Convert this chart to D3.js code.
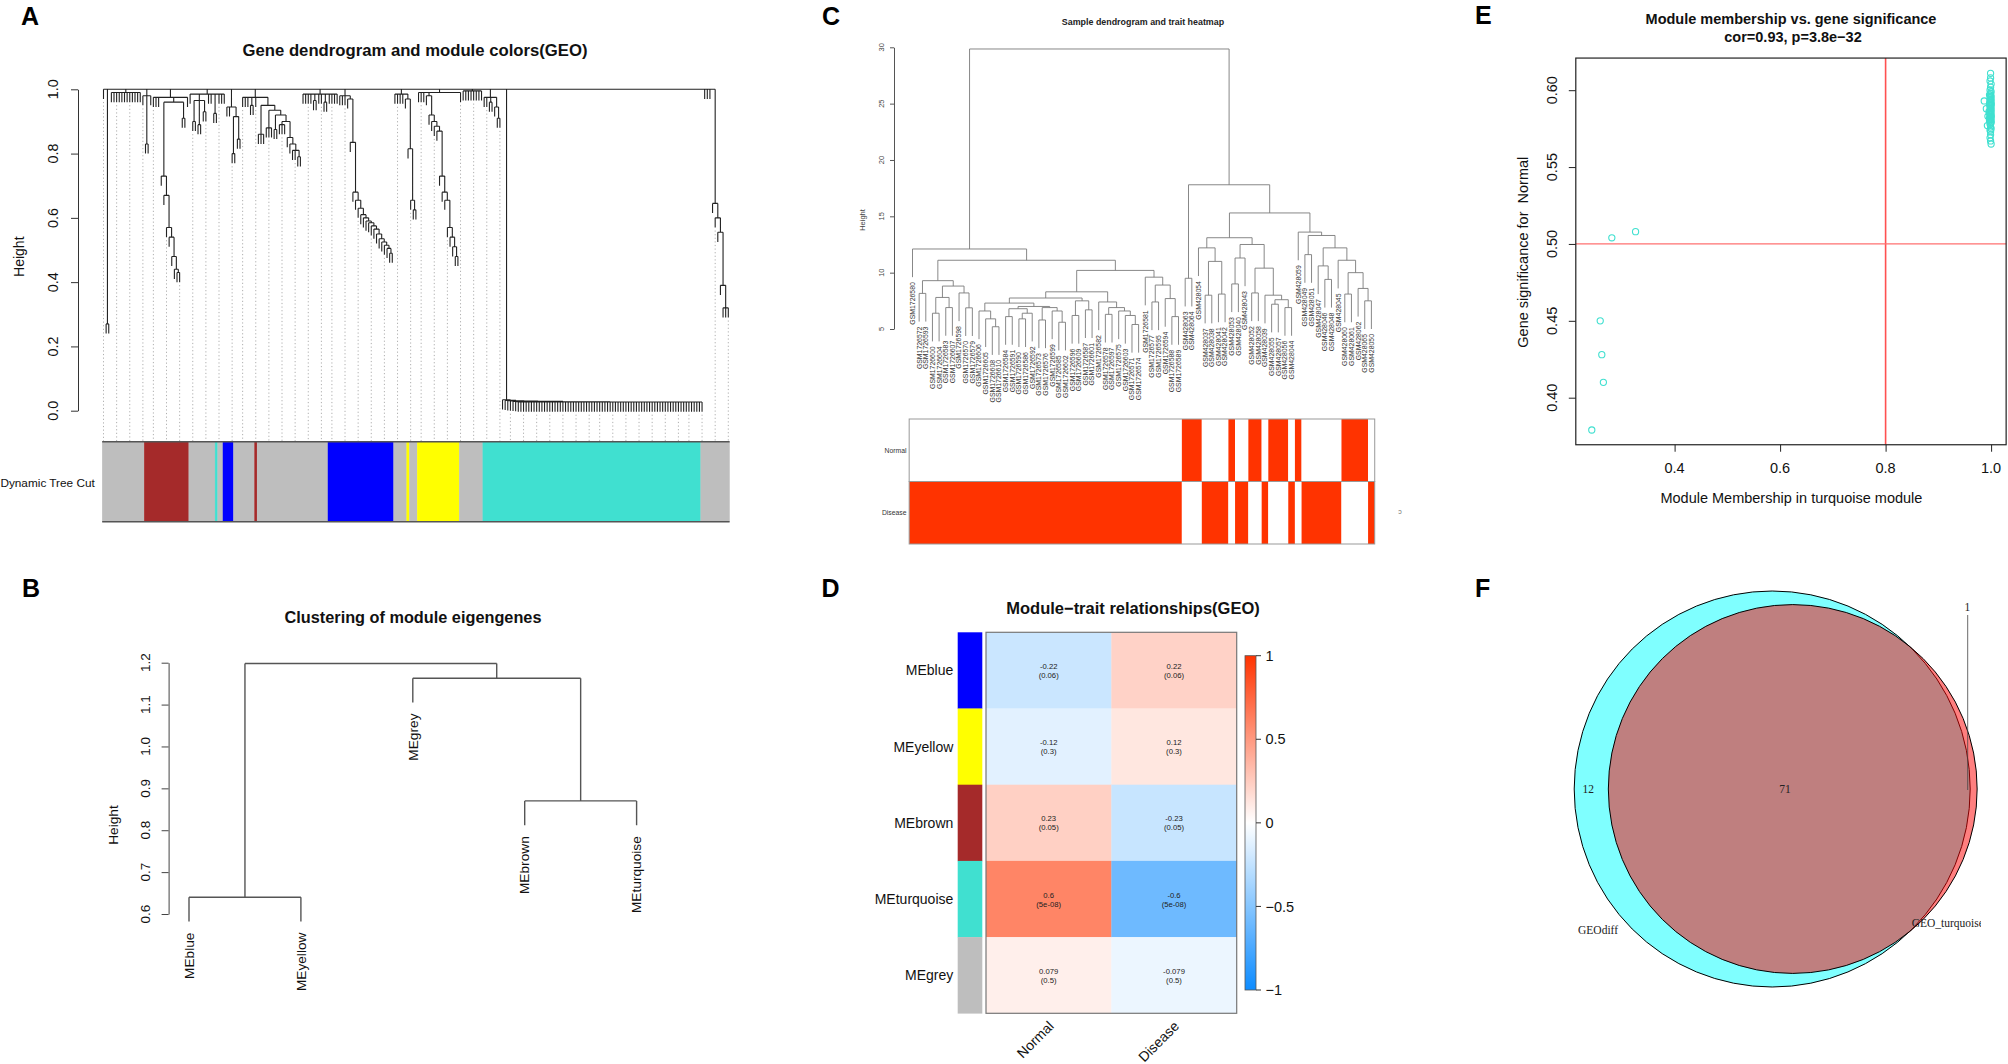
<!DOCTYPE html>
<html>
<head>
<meta charset="utf-8">
<script src="https://d3js.org/d3.v7.min.js"></script>
<style>
  body { margin: 0; background: #fff; }
  svg { display: block; font-family: "Liberation Sans", Arial, sans-serif; }
</style>
</head>
<body>
<svg width="2008" height="1064"></svg>
<script>
// ---------------- data ----------------
// A: gene dendrogram, written as nested merges "(children)height"; "*n" = n unlabeled leaves
const geneTree = [
  "*",
  "(*2)0.27",
  "(*12)0.99",
  "(*,(*2)0.83,*)0.98",
  "(*3,((*,(*,(*,(*,(*,(*,(*2)0.43)0.44)0.48)0.54)0.57)0.67)0.73,(*2)0.91)0.96,*)0.975",
  "(*,((*2)0.9,(*2)0.89,(*2)0.93)0.965,*2,(*2)0.925,*3)0.985",
  "(*2,((*2)0.8,(*2)0.845)0.915)0.945",
  "(*3,(*2)0.95,*,((*3)0.86,((*3)0.88,((*2)0.875,((*3)0.89,(*,(*,(*2,(*2)0.79)0.81)0.83)0.85)0.9)0.92)0.935)0.95)0.975",
  "(*4,(*2)0.965,*2,(*2)0.96,*4)0.985",
  "(*3,(*,(*,(*,(*,(*,(*,(*,(*,(*,(*,(*,(*,(*,(*,(*,(*,(*2)0.49)0.505)0.515)0.525)0.535)0.55)0.565)0.575)0.585)0.59)0.6)0.61)0.63)0.655)0.68)0.835)0.97)0.98",
  "(*4,(*,(*,(*,(*2)0.625)0.655)0.815)0.97)0.985",
  "(*3,(*,(*,(*,(*,(*,(*,(*,(*,(*,(*,(*,(*2)0.48)0.51)0.54)0.57)0.655)0.68)0.73)0.87)0.885)0.9)0.92)0.98,*)0.99",
  "(*8)0.995",
  "(*2,(*2)0.96,(*,(*2)0.91)0.945)0.975",
  "(*,(*,(*,(*,(*,(*,(*71)0.027)0.028)0.029)0.03)0.031)0.032)0.034",
  "*3",
  "(*,(*,(*,(*,(*3)0.32)0.39)0.555)0.6)0.645"
];
const geneTreeTop = 1.0;
// module colour runs under the dendrogram (colour, number of leaves)
const runColors = ["grey","brown","grey","turquoise","grey","blue","grey","brown","grey","blue","grey","yellow","grey","yellow","grey","turquoise","grey"];
const runCounts = [16, 17, 10, 1, 2, 4, 8, 1, 27, 25, 5, 1, 3, 16, 9, 83, 11];
const moduleColor = { grey: "#BEBEBE", brown: "#A52A2A", turquoise: "#40E0D0", blue: "#0000FF", yellow: "#FFFF00" };
const geneTicks = [0, 0.2, 0.4, 0.6, 0.8, 1.0];

// B: eigengene clustering
const eigenTree = "((MEblue,MEyellow)0.64,(MEgrey,(MEbrown,MEturquoise)0.87)1.163)1.198";
const eigenTicks = [0.6, 0.7, 0.8, 0.9, 1.0, 1.1, 1.2];

// C: sample dendrogram
const sampleLeft = "(GSM1726580,(((GSM1726572,GSM1726593)8.16,(((GSM1726600,GSM1726604)6.4,(GSM1726583,GSM1726607)6.9)7.8,(GSM1726598,(GSM1726570,GSM1726579)6.88)8.2)8.81)9.29,(((((GSM1726606,(GSM1726605,(GSM1726608,GSM1726610)5.2)5.9)6.6,(((GSM1726584,GSM1726591)6.1,((GSM1726590,GSM1726586)5.9,GSM1726592)6.4)6.8,((GSM1726573,GSM1726576)5.8,(GSM1726599,(GSM1726585,GSM1726602)5.6)6.6)6.9)7.0)7.3,((GSM1726596,GSM1726609)6.2,(GSM1726587,GSM1726601)6.7)7.5)7.75,(GSM1726582,((GSM1726578,GSM1726597)6.3,(GSM1726575,(GSM1726603,(GSM1726571,GSM1726574)5.4)6.2)6.6)6.9)7.4)8.3,(GSM1726581,((GSM1726577,GSM1726595)7.4,(GSM1726594,(GSM1726588,GSM1726589)6.1)7.7)8.9)9.6)10.2)11.1)12.1";
const sampleRight = "((GSM428063,GSM428064)9.5,(((GSM428054,((GSM428037,GSM428038)8.0,(GSM428041,GSM428042)8.1)11.0)12.2,(((GSM428053,GSM428040)9.0,GSM428043)11.3,((GSM428052,GSM428058)8.2,(GSM428039,((GSM428055,GSM428057)7.2,(GSM428056,GSM428044)6.9)7.6)8.0)10.4)12.5)13.1,(GSM428059,((GSM428049,GSM428051)11.6,((GSM428047,(GSM428046,GSM428048)9.4)10.6,(GSM428045,((GSM428060,GSM428061)8.1,(GSM428062,(GSM428065,GSM428050)7.5)8.6)10.0)11.1)12.2)13.3)13.6)15.3)17.8";
const sampleTop = 29.85;
const normalSamples = ["GSM428063","GSM428064","GSM428054","GSM428053","GSM428052","GSM428058","GSM428055","GSM428057","GSM428056","GSM428059","GSM428060","GSM428061","GSM428062","GSM428065"];
const traitRows = ["Normal", "Disease"];
const sampleTicks = [5, 10, 15, 20, 25, 30];

// D: module-trait correlations
const modules = ["MEblue", "MEyellow", "MEbrown", "MEturquoise", "MEgrey"];
const modColors = ["#0000FF", "#FFFF00", "#A52A2A", "#40E0D0", "#BEBEBE"];
const traits = ["Normal", "Disease"];
const corNormal = [-0.22, -0.12, 0.23, 0.6, 0.079];
const corDisease = [0.22, 0.12, -0.23, -0.6, -0.079];
const pValues = ["0.06", "0.3", "0.05", "5e-08", "0.5"];
const legendTicks = [1, 0.5, 0, -0.5, -1];

// E: module membership vs gene significance
const mmTurquoise = [0.243,0.259,0.262,0.265,0.281,0.326,
  0.999,0.999,0.998,1.000,0.999,0.998,1.000,0.999,0.997,0.999,0.999,1.000,0.998,0.999,0.999,1.000,0.999,0.987,0.998,0.998,1.000,0.999,0.997,1.000,0.999,1.000,0.998,0.998,0.999,0.991,1.000,0.999,0.999,0.998,1.000,0.999,0.996,0.998,0.997,0.999,1.000,0.998,0.999,0.999,0.994,1.000,1.000,0.999,0.997,0.998,0.999,1.000,0.997,0.999,1.000,0.998,0.999,0.993,0.999,1.000,0.998,0.999,0.999,0.998,0.999,1.000];
const gsNormal = [0.379,0.450,0.428,0.410,0.504,0.508,
  0.611,0.608,0.606,0.604,0.602,0.600,0.599,0.598,0.597,0.597,0.596,0.596,0.595,0.595,0.594,0.594,0.593,0.593,0.593,0.592,0.592,0.591,0.591,0.591,0.590,0.590,0.590,0.589,0.589,0.588,0.588,0.588,0.587,0.587,0.586,0.586,0.586,0.586,0.585,0.585,0.584,0.584,0.584,0.583,0.583,0.583,0.582,0.582,0.582,0.581,0.581,0.580,0.580,0.579,0.579,0.578,0.578,0.577,0.576,0.575,0.574,0.573,0.571,0.569,0.567,0.565];
const mmTicks = [0.4, 0.6, 0.8, 1.0];
const gsTicks = [0.40, 0.45, 0.50, 0.55, 0.60];

// F: venn
const vennSets = ["GEOdiff", "GEO_turquoise"];
const vennSizes = [83, 72];
const vennOverlap = 71;

// ---------------- helpers ----------------
const svg = d3.select("svg");
svg.append("rect").attr("width", 2008).attr("height", 1064).attr("fill", "#fff");

function parseTree(s) {
  let i = 0;
  const num = () => { const m = /^[0-9.]+/.exec(s.slice(i)); i += m[0].length; return +m[0]; };
  function items() {
    if (s[i] === "(") {
      i++;
      const kids = [];
      do { if (s[i] === ",") i++; kids.push(...items()); } while (s[i] === ",");
      i++;
      return [{ h: num(), children: kids }];
    }
    if (s[i] === "*") {
      i++;
      const n = /[0-9]/.test(s[i]) ? num() : 1;
      return d3.range(n).map(() => ({}));
    }
    const m = /^[^,()]+/.exec(s.slice(i)); i += m[0].length;
    return [{ name: m[0] }];
  }
  return items()[0];
}

// lays leaves out in order on x, merges at their height on y
function dendro(g, spec, x, y, hang) {
  const root = d3.hierarchy(parseTree(spec));
  const leaves = root.leaves();
  x.domain([0, leaves.length - 1]);
  leaves.forEach((d, i) => { d.px = x(i); });
  root.eachAfter(d => { if (d.children) d.px = (d.children[0].px + d.children[d.children.length - 1].px) / 2; });
  let p = "";
  root.each(d => {
    if (!d.children) return;
    const yh = y(d.data.h);
    p += `M${d.children[0].px},${yh}H${d.children[d.children.length - 1].px}`;
    d.children.forEach(c => {
      c.low = c.children ? c.data.h : d.data.h - hang;
      p += `M${c.px},${yh}V${y(c.low)}`;
    });
  });
  g.append("path").attr("d", p).attr("fill", "none");
  return leaves;
}

function htext(g, x, y, str, size, anchor, weight) {
  return g.append("text").attr("x", x).attr("y", y + 0.35 * size)
    .attr("text-anchor", anchor || "middle").attr("font-size", size)
    .attr("font-weight", weight || null).text(str);
}
function vtext(g, x, y, str, size, anchor) {
  const bx = x + 0.35 * size;
  return g.append("text").attr("x", bx).attr("y", y)
    .attr("transform", `rotate(-90,${bx},${y})`)
    .attr("text-anchor", anchor || "middle").attr("font-size", size).text(str);
}
function letter(x, y, s) {
  svg.append("text").attr("x", x).attr("y", y).attr("font-size", 25).attr("font-weight", "bold").text(s);
}

// ---------------- A ----------------
const gA = svg.append("g").attr("fill", "#111");
letter(21, 25, "A");
htext(gA, 415, 50, "Gene dendrogram and module colors(GEO)", 16.7, "middle", "bold");
const xA = d3.scaleLinear().range([103.5, 728.3]);
const yA = d3.scaleLinear().domain([0, 1]).range([410.7, 89.3]);
const leavesA = dendro(gA.append("g").attr("stroke", "#222").attr("stroke-width", 1.1),
  "(" + geneTree.join(",") + ")" + geneTreeTop, xA, yA, 0.03);

const guideG = gA.append("g").attr("stroke", "#9a9a9a").attr("stroke-width", 0.8).attr("stroke-dasharray", "1.2,2.4");
d3.range(50).forEach(k => {
  const lf = leavesA[Math.round(k * (leavesA.length - 1) / 49)];
  const y0 = yA(lf.low) + 3;
  if (y0 < 441) guideG.append("line").attr("x1", lf.px).attr("x2", lf.px).attr("y1", y0).attr("y2", 441.7);
});

let run = 0;
runColors.forEach((c, k) => {
  gA.append("rect").attr("x", xA(run - 0.5)).attr("y", 441.7)
    .attr("width", xA(run + runCounts[k] - 0.5) - xA(run - 0.5)).attr("height", 80)
    .attr("fill", moduleColor[c]).attr("stroke", moduleColor[c]).attr("stroke-width", 0.3);
  run += runCounts[k];
});
[441.7, 521.7].forEach(yy => gA.append("line").attr("x1", xA(-0.5)).attr("x2", xA(run - 0.5))
  .attr("y1", yy).attr("y2", yy).attr("stroke", "#555").attr("stroke-width", 1.4));
htext(gA, 94.8, 482.7, "Dynamic Tree Cut", 11.8, "end");

gA.append("g").attr("transform", "translate(78,0)").attr("color", "#333")
  .call(d3.axisLeft(yA).tickValues(geneTicks).tickSize(7).tickSizeOuter(0).tickFormat(""));
geneTicks.forEach(v => vtext(gA, 52.7, yA(v), v.toFixed(1), 14.4));
vtext(gA, 18.8, 256.7, "Height", 14);

// ---------------- B ----------------
const gB = svg.append("g").attr("fill", "#111");
letter(22, 597, "B");
htext(gB, 413, 617, "Clustering of module eigengenes", 16.3, "middle", "bold");
const xB = d3.scaleLinear().range([189, 636.6]);
const yB = d3.scaleLinear().domain([0.6, 1.2]).range([914, 662.7]);
const leavesB = dendro(gB.append("g").attr("stroke", "#555").attr("stroke-width", 1.4), eigenTree, xB, yB, 0.058);
leavesB.forEach(d => vtext(gB, d.px, yB(d.low) + 11, d.data.name, 13.7, "end"));
gB.append("g").attr("transform", "translate(168.6,0)").attr("color", "#444")
  .call(d3.axisLeft(yB).tickValues(eigenTicks).tickSize(7).tickSizeOuter(0).tickFormat(""));
eigenTicks.forEach(v => vtext(gB, 144.9, yB(v), v.toFixed(1), 13.5));
vtext(gB, 113, 825, "Height", 13.7);

// ---------------- C ----------------
const gC = svg.append("g").attr("fill", "#222");
letter(822, 25, "C");
htext(gC, 1143, 22, "Sample dendrogram and trait heatmap", 8.9, "middle", "bold");
const xC = d3.scaleLinear().range([912.5, 1371.4]);
const yC = d3.scaleLinear().domain([5, 30]).range([329, 47.3]);
const leavesC = dendro(gC.append("g").attr("stroke", "#7a7a7a").attr("stroke-width", 0.9),
  "(" + sampleLeft + "," + sampleRight + ")" + sampleTop, xC, yC, 2.5);
leavesC.forEach(d => vtext(gC, d.px, yC(d.low) + 5, d.data.name, 6.9, "end").attr("fill", "#333"));
gC.append("g").attr("transform", "translate(894,0)").attr("color", "#555")
  .call(d3.axisLeft(yC).tickValues(sampleTicks).tickSize(4).tickSizeOuter(0).tickFormat(""));
sampleTicks.forEach(v => vtext(gC, 881.7, yC(v), String(v), 7.5).attr("fill", "#444"));
vtext(gC, 862.7, 220, "Height", 7.5).attr("fill", "#444");

const cellW = xC(1) - xC(0);
const rowsC = d3.scaleBand().domain(traitRows).range([419, 544]);
traitRows.forEach(r => {
  // merge neighbouring samples with the same state into one block
  const blocks = [];
  leavesC.forEach((d, i) => {
    const on = (r === "Normal") === normalSamples.includes(d.data.name);
    const last = blocks[blocks.length - 1];
    if (last && last.on === on) last.n++; else blocks.push({ on, start: i, n: 1 });
  });
  blocks.forEach(b => {
    gC.append("rect").attr("x", xC(b.start - 0.5)).attr("y", rowsC(r))
      .attr("width", xC(b.start + b.n - 0.5) - xC(b.start - 0.5)).attr("height", rowsC.bandwidth())
      .attr("fill", b.on ? "#FF3300" : "#fff");
  });
  gC.append("rect").attr("x", xC(-0.5)).attr("y", rowsC(r))
    .attr("width", xC(leavesC.length - 0.5) - xC(-0.5)).attr("height", rowsC.bandwidth())
    .attr("fill", "none").attr("stroke", "#999").attr("stroke-width", 1);
  htext(gC, 906.5, rowsC(r) + rowsC.bandwidth() / 2, r, 6.8, "end").attr("fill", "#333");
});
gC.append("text").attr("x", 1400).attr("y", 510).attr("font-size", 7).attr("fill", "#777")
  .attr("transform", "rotate(180,1400,510)").attr("text-anchor", "middle").text("c");

// ---------------- D ----------------
const gD = svg.append("g").attr("fill", "#111");
letter(821.5, 597, "D");
htext(gD, 1133, 608, "Module\u2212trait relationships(GEO)", 16.5, "middle", "bold");
const colorD = d3.scaleLinear().domain([-1, 0, 1]).range(["#0D8CFF", "#FFFFFF", "#FF3300"]);
const rowD = d3.scaleBand().domain(modules).range([632.3, 1013.3]);
const colD = d3.scaleBand().domain(traits).range([986, 1236.7]);
modules.forEach((m, i) => {
  gD.append("rect").attr("x", 957.7).attr("y", rowD(m)).attr("width", 24.6).attr("height", rowD.bandwidth() + 0.3).attr("fill", modColors[i]);
  htext(gD, 953.3, rowD(m) + rowD.bandwidth() / 2, m, 14, "end");
  [corNormal[i], corDisease[i]].forEach((v, j) => {
    const cx = colD(traits[j]), cy = rowD(m) + rowD.bandwidth() / 2;
    gD.append("rect").attr("x", cx).attr("y", rowD(m)).attr("width", colD.bandwidth() + 0.3)
      .attr("height", rowD.bandwidth() + 0.3).attr("fill", colorD(v));
    htext(gD, cx + colD.bandwidth() / 2, cy - 4, String(v), 7.7).attr("fill", "#222");
    htext(gD, cx + colD.bandwidth() / 2, cy + 5, "(" + pValues[i] + ")", 7.7).attr("fill", "#222");
  });
});
gD.append("rect").attr("x", 986).attr("y", 632.3).attr("width", 250.7).attr("height", 381)
  .attr("fill", "none").attr("stroke", "#777").attr("stroke-width", 1.2);
traits.forEach(t => {
  const ex = colD(t) + colD.bandwidth() / 2 + 6, ey = 1027;
  gD.append("text").attr("x", ex).attr("y", ey).attr("text-anchor", "end").attr("font-size", 14)
    .attr("transform", `rotate(-45,${ex},${ey})`).text(t);
});
const yLeg = d3.scaleLinear().domain([-1, 1]).range([990, 655.7]);
const grad = svg.append("defs").append("linearGradient").attr("id", "gradD")
  .attr("x1", 0).attr("y1", 0).attr("x2", 0).attr("y2", 1);
d3.range(0, 1.0001, 0.05).forEach(t => grad.append("stop").attr("offset", t).attr("stop-color", colorD(1 - 2 * t)));
gD.append("rect").attr("x", 1245).attr("y", yLeg(1)).attr("width", 11).attr("height", yLeg(-1) - yLeg(1))
  .attr("fill", "url(#gradD)").attr("stroke", "#555").attr("stroke-width", 0.8);
legendTicks.forEach(v => {
  gD.append("line").attr("x1", 1256).attr("x2", 1261).attr("y1", yLeg(v)).attr("y2", yLeg(v)).attr("stroke", "#333");
  htext(gD, 1265.5, yLeg(v), String(v).replace("-", "\u2212"), 14.5, "start");
});

// ---------------- E ----------------
const gE = svg.append("g").attr("fill", "#111");
letter(1475, 24, "E");
htext(gE, 1791, 18.5, "Module membership vs. gene significance", 14.5, "middle", "bold");
htext(gE, 1793, 37, "cor=0.93, p=3.8e\u221232", 14.5, "middle", "bold");
const xE = d3.scaleLinear().domain([0.4, 1.0]).range([1674.6, 1991.1]);
const yE = d3.scaleLinear().domain([0.4, 0.6]).range([397.7, 90.2]);
const bx0 = xE(0.2127), bx1 = xE(1.0285), by0 = yE(0.6209), by1 = yE(0.3694);
gE.append("line").attr("x1", xE(0.8)).attr("x2", xE(0.8)).attr("y1", by0).attr("y2", by1)
  .attr("stroke", "#FF5050").attr("stroke-width", 1.6);
gE.append("line").attr("x1", bx0).attr("x2", bx1).attr("y1", yE(0.5)).attr("y2", yE(0.5))
  .attr("stroke", "#FF7070").attr("stroke-width", 1.3);
gE.append("g").selectAll("circle").data(mmTurquoise).join("circle")
  .attr("cx", d => xE(d)).attr("cy", (d, i) => yE(gsNormal[i])).attr("r", 3.1)
  .attr("fill", "none").attr("stroke", "#40E0D0").attr("stroke-width", 1.1);
gE.append("rect").attr("x", bx0).attr("y", by0).attr("width", bx1 - bx0).attr("height", by1 - by0)
  .attr("fill", "none").attr("stroke", "#222").attr("stroke-width", 1.2);
gE.append("g").attr("transform", `translate(0,${by1})`).attr("color", "#222")
  .call(d3.axisBottom(xE).tickValues(mmTicks).tickSize(7).tickSizeOuter(0).tickFormat(""))
  .select(".domain").remove();
gE.append("g").attr("transform", `translate(${bx0},0)`).attr("color", "#222")
  .call(d3.axisLeft(yE).tickValues(gsTicks).tickSize(7).tickSizeOuter(0).tickFormat(""))
  .select(".domain").remove();
mmTicks.forEach(v => htext(gE, xE(v), 467.6, v.toFixed(1), 14.5));
gsTicks.forEach(v => vtext(gE, 1552.4, yE(v), v.toFixed(2), 14.5));
htext(gE, 1791.4, 497.6, "Module Membership in turquoise module", 14.5);
vtext(gE, 1522.8, 252.2, "Gene significance for  Normal", 14.5).style("white-space", "pre");

// ---------------- F ----------------
const gF = svg.append("g");
letter(1475, 597, "F");
const rF = d3.scaleSqrt().domain([0, vennSizes[0]]).range([0, 198]);
const r1 = rF(vennSizes[0]), r2 = rF(vennSizes[1]);
const unitArea = Math.PI * r1 * r1 / vennSizes[0];
function lens(d) {
  const a = r1 * r1 * Math.acos((d * d + r1 * r1 - r2 * r2) / (2 * d * r1));
  const b = r2 * r2 * Math.acos((d * d + r2 * r2 - r1 * r1) / (2 * d * r2));
  const c = 0.5 * Math.sqrt((-d + r1 + r2) * (d + r1 - r2) * (d - r1 + r2) * (d + r1 + r2));
  return a + b - c;
}
let lo = r1 - r2 + 1e-6, hi = r1 + r2;
for (let k = 0; k < 60; k++) { const mid = (lo + hi) / 2; if (lens(mid) > vennOverlap * unitArea) lo = mid; else hi = mid; }
const dist = (lo + hi) / 2;
const c1x = 1772.2, cy = 789;
gF.append("circle").attr("cx", c1x).attr("cy", cy).attr("r", r1)
  .attr("fill", "rgba(0,255,255,0.5)").attr("stroke", "#000").attr("stroke-width", 1);
gF.append("circle").attr("cx", c1x + dist).attr("cy", cy).attr("r", r2)
  .attr("fill", "rgba(255,0,0,0.5)").attr("stroke", "#000").attr("stroke-width", 1);
const serif = "'Liberation Serif', 'Times New Roman', serif";
const fT = (x, y, s, anchor) => gF.append("text").attr("x", x).attr("y", y).attr("font-family", serif)
  .attr("font-size", 11.5).attr("fill", "#222").attr("text-anchor", anchor || "middle").text(s);
fT(1588.3, 793.3, String(vennSizes[0] - vennOverlap));
fT(1785, 793.3, String(vennOverlap));
fT(1967.3, 610.7, String(vennSizes[1] - vennOverlap));
gF.append("line").attr("x1", 1967.7).attr("x2", 1967.7).attr("y1", 615).attr("y2", 790).attr("stroke", "#444").attr("stroke-width", 0.8);
gF.append("clipPath").attr("id", "clipF").append("rect").attr("x", 1500).attr("y", 560).attr("width", 481).attr("height", 500);
fT(1578, 934, vennSets[0], "start");
fT(1911.7, 926.5, vennSets[1], "start").attr("clip-path", "url(#clipF)");
</script>
</body>
</html>
